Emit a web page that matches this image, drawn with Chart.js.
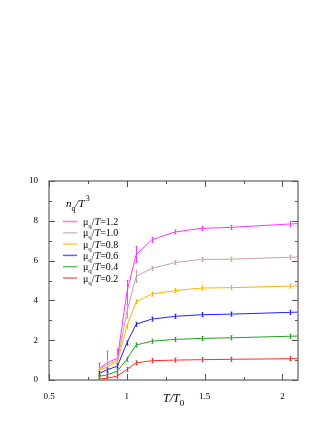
<!DOCTYPE html>
<html>
<head>
<meta charset="utf-8">
<script src="https://cdn.jsdelivr.net/npm/chart.js@4.4.0/dist/chart.umd.min.js"></script>
<style>
  html, body { margin: 0; padding: 0; background: #fff; }
  canvas { display: block; }
</style>
</head>
<body>
<canvas id="chart" width="332" height="430"></canvas>
<script>
// T/T0 values shared by all curves (last one lies past the frame)
const tOverT0 = [0.82, 0.87, 0.94, 1.0, 1.06, 1.16, 1.31, 1.48, 1.67, 2.05, 2.2];

// n_q/T^3 for each mu_q/T
const mu12 = [0.55, 0.85, 1.1, 4.4, 6.3, 7.04, 7.44, 7.62, 7.67, 7.84, 7.9];
const mu10 = [0.5, 0.75, 1.0, 3.4, 5.2, 5.61, 5.9, 6.06, 6.07, 6.17, 6.21];
const mu08 = [0.45, 0.65, 0.92, 2.7, 3.93, 4.32, 4.49, 4.62, 4.64, 4.72, 4.75];
const mu06 = [0.32, 0.5, 0.7, 1.86, 2.8, 3.06, 3.2, 3.28, 3.31, 3.4, 3.43];
const mu04 = [0.18, 0.25, 0.45, 1.04, 1.76, 1.95, 2.04, 2.09, 2.12, 2.2, 2.23];
const mu02 = [0.05, 0.08, 0.2, 0.53, 0.86, 0.97, 1.0, 1.02, 1.04, 1.07, 1.08];

// error bar half sizes
const err12 = [0.3, 0.6, 0.45, 0.6, 0.4, 0.12, 0.08, 0.1, 0.1, 0.12, 0];
const err10 = [0.15, 0.3, 0.3, 0.3, 0.3, 0.1, 0.08, 0.08, 0.08, 0.1, 0];
const errSmall = [0.05, 0.08, 0.08, 0.1, 0.08, 0.05, 0.05, 0.05, 0.05, 0.05, 0];

const muLabels = ['1.2', '1.0', '0.8', '0.6', '0.4', '0.2'];
const xTicks = [0.5, 1, 1.5, 2];
const xMinorTicks = [0.75, 1.25, 1.75];
const yTicks = [0, 2, 4, 6, 8, 10];
const yMinorTicks = [1, 3, 5, 7, 9];

const colors = ['#ff33ff', '#c9a0a0', '#ffb000', '#2020ff', '#22a022', '#ff2a2a'];
const series = [mu12, mu10, mu08, mu06, mu04, mu02];
const errors = [err12, err10, errSmall, errSmall, errSmall, errSmall];

const SERIF = '"Liberation Serif", "DejaVu Serif", serif';

function toPoints(vals) {
    return vals.map((v, i) => ({ x: tOverT0[i], y: v }));
}

const datasets = series.map((vals, i) => ({
    label: muLabels[i],
    data: toPoints(vals),
    errors: errors[i],
    borderColor: colors[i],
    backgroundColor: colors[i],
    borderWidth: 1,
    pointRadius: 0,
    tension: 0,
    showLine: true
}));

// frame, inward ticks, error bars, legend and axis title
const decorations = {
    id: 'decorations',
    afterDatasetsDraw(chart) {
        const ctx = chart.ctx;
        const a = chart.chartArea;
        const xs = chart.scales.x, ys = chart.scales.y;

        // error bars
        ctx.save();
        ctx.beginPath();
        ctx.rect(a.left, a.top, a.right - a.left, a.bottom - a.top);
        ctx.clip();
        chart.data.datasets.forEach(ds => {
            ctx.strokeStyle = ds.borderColor;
            ctx.lineWidth = 1;
            ds.data.forEach((p, i) => {
                if (p.x > 2.1) return;
                const px = Math.round(xs.getPixelForValue(p.x)) + 0.5;
                let top = ys.getPixelForValue(p.y + ds.errors[i]);
                let bot = ys.getPixelForValue(p.y - ds.errors[i]);
                const py = ys.getPixelForValue(p.y);
                top = Math.min(top, py - 2);
                bot = Math.max(bot, py + 2);
                ctx.beginPath();
                ctx.moveTo(px, top); ctx.lineTo(px, bot);
                ctx.moveTo(px - 1, top); ctx.lineTo(px + 1, top);
                ctx.moveTo(px - 1, bot); ctx.lineTo(px + 1, bot);
                ctx.stroke();
            });
        });
        ctx.restore();

        // frame
        ctx.save();
        ctx.strokeStyle = '#808080';
        ctx.lineWidth = 1.5;
        ctx.strokeRect(a.left, a.top, a.right - a.left, a.bottom - a.top);

        ctx.strokeStyle = '#555';
        ctx.lineWidth = 1;
        ctx.beginPath();
        const xt = (v, len) => {
            const px = Math.round(xs.getPixelForValue(v)) + 0.5;
            ctx.moveTo(px, a.bottom); ctx.lineTo(px, a.bottom - len);
            ctx.moveTo(px, a.top); ctx.lineTo(px, a.top + len);
        };
        const yt = (v, len) => {
            const py = Math.round(ys.getPixelForValue(v)) + 0.5;
            ctx.moveTo(a.left, py); ctx.lineTo(a.left + len, py);
            ctx.moveTo(a.right, py); ctx.lineTo(a.right - len, py);
        };
        xTicks.forEach(v => xt(v, 6));
        xMinorTicks.forEach(v => xt(v, 3));
        yTicks.forEach(v => yt(v, 6));
        yMinorTicks.forEach(v => yt(v, 3));
        ctx.stroke();

        // legend title n_q/T^3
        ctx.fillStyle = '#000';
        ctx.textBaseline = 'alphabetic';
        ctx.textAlign = 'left';
        let x = 66, y = 207;
        ctx.font = 'italic 11px ' + SERIF;
        ctx.fillText('n', x, y); x += ctx.measureText('n').width;
        ctx.font = '8px ' + SERIF;
        ctx.fillText('q', x, y + 4); x += ctx.measureText('q').width;
        ctx.font = 'italic 11px ' + SERIF;
        ctx.fillText('/T', x, y); x += ctx.measureText('/T').width + 1;
        ctx.font = '8px ' + SERIF;
        ctx.fillText('3', x, y - 6);

        // legend entries
        muLabels.forEach((lab, i) => {
            const ly = 221.5 + i * 11.3;
            ctx.strokeStyle = colors[i];
            ctx.globalAlpha = 0.7;
            ctx.lineWidth = 1.5;
            ctx.beginPath();
            ctx.moveTo(63, ly); ctx.lineTo(77, ly);
            ctx.stroke();
            ctx.globalAlpha = 1;
            let tx = 83;
            const base = ly + 3.5;
            ctx.font = '10px ' + SERIF;
            ctx.fillText('\u03bc', tx, base); tx += ctx.measureText('\u03bc').width;
            ctx.font = '7px ' + SERIF;
            ctx.fillText('q', tx, base + 3); tx += ctx.measureText('q').width;
            ctx.font = '10px ' + SERIF;
            ctx.fillText('/', tx, base); tx += ctx.measureText('/').width;
            ctx.font = 'italic 10px ' + SERIF;
            ctx.fillText('T', tx, base); tx += ctx.measureText('T').width;
            ctx.font = '10px ' + SERIF;
            ctx.fillText('=' + lab, tx, base);
        });

        // x axis title T/T0
        x = 163; y = 402;
        ctx.font = 'italic 12px ' + SERIF;
        ctx.fillText('T/T', x, y); x += ctx.measureText('T/T').width;
        ctx.font = '9px ' + SERIF;
        ctx.fillText('0', x, y + 4);
        ctx.restore();
    }
};

new Chart(document.getElementById('chart').getContext('2d'), {
    type: 'scatter',
    data: { datasets },
    options: {
        responsive: false,
        animation: false,
        devicePixelRatio: 1,
        layout: { padding: { left: 0, right: 34, top: 181, bottom: 0 } },
        plugins: { legend: { display: false }, tooltip: { enabled: false } },
        scales: {
            x: {
                type: 'linear',
                min: 0.5,
                max: 2.1,
                grid: { display: false },
                border: { display: false },
                afterBuildTicks: s => { s.ticks = xTicks.map(v => ({ value: v })); },
                afterFit: s => { s.height = 50; },
                ticks: {
                    color: '#000',
                    padding: 3,
                    maxRotation: 0,
                    autoSkip: false,
                    font: { family: SERIF, size: 9 },
                    callback: v => String(v)
                }
            },
            y: {
                type: 'linear',
                min: 0,
                max: 10,
                grid: { display: false },
                border: { display: false },
                afterBuildTicks: s => { s.ticks = yTicks.map(v => ({ value: v })); },
                afterFit: s => { s.width = 49; },
                ticks: {
                    color: '#000',
                    padding: 3,
                    autoSkip: false,
                    font: { family: SERIF, size: 9 },
                    callback: v => String(v)
                }
            }
        }
    },
    plugins: [decorations]
});
</script>
</body>
</html>
